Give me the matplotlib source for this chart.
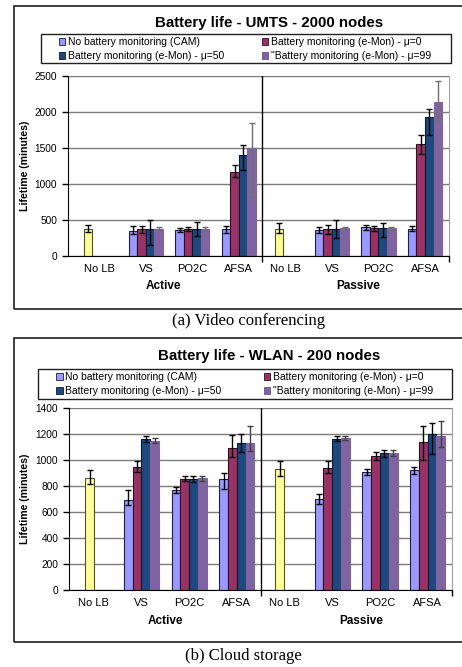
import matplotlib
matplotlib.use('Agg')
import matplotlib.pyplot as plt
import numpy as np
from matplotlib.patches import Rectangle, Patch

plt.rcParams['font.family'] = ['Liberation Sans', 'DejaVu Sans']

W, H = 462, 667
nan = np.nan

categories = ['No LB', 'VS', 'PO2C', 'AFSA', 'No LB', 'VS', 'PO2C', 'AFSA']
groups = ['Active', 'Passive']
series = ['No battery monitoring (CAM)',
          'Battery monitoring (e-Mon) - \u03bc=0',
          'Battery monitoring (e-Mon) - \u03bc=50',
          '"Battery monitoring (e-Mon) - \u03bc=99']
colors = ['#9999ff', '#993366', '#1f497d', '#8064a2']
edges = ['#202040', '#2a1020', '#0a1a30', '#8064a2']
nolb_color = '#ffff99'

# (a) video conferencing, UMTS 2000 nodes  -- value, error bar top, error bar bottom
umts_cam = [370, 350, 362, 368, 376, 353, 395, 376]
umts_cam_top = [423, 410, 390, 413, 450, 393, 427, 410]
umts_cam_bot = [325, 300, 330, 320, 320, 310, 360, 340]
umts_mu0 = [nan, 370, 370, 1165, nan, 367, 386, 1555]
umts_mu0_top = [nan, 413, 397, 1266, nan, 423, 410, 1683]
umts_mu0_bot = [nan, 318, 350, 1099, nan, 300, 350, 1415]
umts_mu50 = [nan, 370, 370, 1400, nan, 376, 386, 1925]
umts_mu50_top = [nan, 497, 465, 1544, nan, 497, 460, 2045]
umts_mu50_bot = [nan, 144, 270, 1192, nan, 246, 255, 1683]
umts_mu99 = [nan, 375, 375, 1500, nan, 381, 381, 2134]
umts_mu99_top = [nan, 400, 397, 1851, nan, 403, 403, 2434]
umts_mu99_bot = [nan, 355, 350, 816, nan, 360, 360, 1878]

# (b) cloud storage, WLAN 200 nodes
wlan_cam = [861, 693, 770, 853, 930, 699, 909, 922]
wlan_cam_top = [922, 768, 790, 899, 996, 737, 932, 950]
wlan_cam_bot = [814, 652, 745, 778, 878, 665, 886, 894]
wlan_mu0 = [nan, 945, 855, 1094, nan, 943, 1035, 1140]
wlan_mu0_top = [nan, 994, 876, 1192, nan, 996, 1060, 1266]
wlan_mu0_bot = [nan, 909, 838, 1027, nan, 899, 1000, 999]
wlan_mu50 = [nan, 1161, 855, 1130, nan, 1161, 1053, 1202]
wlan_mu50_top = [nan, 1184, 880, 1200, nan, 1184, 1075, 1289]
wlan_mu50_bot = [nan, 1140, 830, 1060, nan, 1150, 1021, 1045]
wlan_mu99 = [nan, 1150, 861, 1130, nan, 1174, 1056, 1189]
wlan_mu99_top = [nan, 1173, 880, 1264, nan, 1190, 1075, 1304]
wlan_mu99_bot = [nan, 1130, 842, 1073, nan, 1155, 1035, 1100]


def fx(x):
    return x / W


def fy(y):
    return 1 - y / H


fig = plt.figure(figsize=(W / 100, H / 100), dpi=100)


def draw_panel(box, title, title_y, leg_y, leg_x2, ax_px, xlim, ylim, ystep,
               vals, tops, bots, yshift, err99, caption, cap_y, cap_x, ylab_x):
    # outer frame
    x0, y0, x1, y1 = box
    fig.patches.append(Rectangle((fx(x0), fy(y1)), fx(x1 - x0), (y1 - y0) / H,
                                 transform=fig.transFigure, fill=False,
                                 edgecolor='#202020', lw=1.2))
    fig.text(fx(269), fy(title_y), title, ha='center', va='center',
             fontsize=10.8, fontweight='bold')

    # legend frame + two one-column legends
    lx0, ly0, lx1, ly1 = leg_y
    fig.patches.append(Rectangle((fx(lx0), fy(ly1)), fx(lx1 - lx0), (ly1 - ly0) / H,
                                 transform=fig.transFigure, fill=False,
                                 edgecolor='#202020', lw=1))
    hs = [Patch(facecolor=colors[i], edgecolor=edges[i] if i < 3 else '#6a5090', lw=0.6)
          for i in range(4)]
    for cols, xx in [([0, 2], lx0 + 18), ([1, 3], leg_x2)]:
        fig.legend([hs[c] for c in cols], [series[c] for c in cols],
                   loc='upper left', bbox_to_anchor=(fx(xx), fy(ly0 + 3)),
                   frameon=False, fontsize=7.5, handlelength=0.6, handleheight=0.6,
                   handletextpad=0.25, borderpad=0, borderaxespad=0,
                   labelspacing=0.4)

    l, r, t, b = ax_px
    ax = fig.add_axes([fx(l), fy(b), fx(r - l), (b - t) / H])
    x = np.arange(len(categories))
    wdt = 0.184
    for i in range(4):
        v = np.array(vals[i], dtype=float)
        tp = np.array(tops[i], dtype=float)
        bt = np.array(bots[i], dtype=float)
        pos = x + (i - 1.5) * wdt
        fc = [colors[i]] * len(x)
        ec = [edges[i]] * len(x)
        if i == 0:
            for k, c in enumerate(categories):
                if c == 'No LB':
                    pos[k] = x[k] + yshift[k // 4]
                    fc[k] = nolb_color
                    ec[k] = '#505020'
        ok = ~np.isnan(v)
        ax.bar(pos[ok], v[ok], width=wdt, color=np.array(fc)[ok],
               edgecolor=np.array(ec)[ok], lw=0.8, zorder=2)
        ecol = err99 if i == 3 else 'black'
        ax.errorbar(pos[ok], v[ok], yerr=[v[ok] - bt[ok], tp[ok] - v[ok]], fmt='none',
                    ecolor=ecol, elinewidth=1, capsize=2.5, capthick=1, zorder=3)

    ax.set_xlim(*xlim)
    ax.set_ylim(0, ylim)
    ax.set_yticks(np.arange(0, ylim + 1, ystep))
    ax.yaxis.grid(True, color='#7c7c7c', lw=1)
    ax.set_axisbelow(True)
    ax.axvline(3.5, color='black', lw=1, zorder=1)
    ax.set_xticks(x)
    ax.set_xticklabels(categories, fontsize=8)
    ax.tick_params(axis='x', length=0, pad=6)
    ax.set_xticks([3.5, xlim[1]], minor=True)
    ax.tick_params(axis='x', which='minor', length=4, width=1)
    ax.tick_params(axis='y', length=4, width=1, pad=4, labelsize=7.3)
    ax.spines['top'].set_visible(False)
    ax.spines['right'].set_color('#a0a0a0')
    ax.spines['left'].set_color('black')
    ax.spines['bottom'].set_color('black')
    ax.set_ylabel('Lifetime (minutes)', fontsize=7.6, fontweight='bold')
    ax.yaxis.set_label_coords(ylab_x, 0.5)
    for g, gx in zip(groups, [0.25, 0.762]):
        ax.text(gx, -0.17, g, transform=ax.transAxes, ha='center', va='center',
                fontsize=8.5, fontweight='bold')

    fig.text(fx(cap_x), fy(cap_y), caption, ha='center', va='center',
             fontsize=12, family=['Liberation Serif', 'DejaVu Serif'])


draw_panel((14.3, 6, 466, 309), 'Battery life - UMTS - 2000 nodes', 23,
           (40.7, 34, 451.3, 63.3), 262,
           (68.3, 448.7, 76, 255.7), (-0.667, 7.51), 2500, 500,
           [umts_cam, umts_mu0, umts_mu50, umts_mu99],
           [umts_cam_top, umts_mu0_top, umts_mu50_top, umts_mu99_top],
           [umts_cam_bot, umts_mu0_bot, umts_mu50_bot, umts_mu99_bot],
           [-0.247, -0.14], '#707070', '(a) Video conferencing', 321, 249, -0.1)

draw_panel((14.3, 338, 466, 641.7), 'Battery life - WLAN - 200 nodes', 356,
           (38.3, 369, 452.3, 399), 264,
           (69.3, 452, 408.3, 590), (-0.51, 7.51), 1400, 200,
           [wlan_cam, wlan_mu0, wlan_mu50, wlan_mu99],
           [wlan_cam_top, wlan_mu0_top, wlan_mu50_top, wlan_mu99_top],
           [wlan_cam_bot, wlan_mu0_bot, wlan_mu50_bot, wlan_mu99_bot],
           [-0.086, -0.097], '#404040', '(b) Cloud storage', 656, 243, -0.102)

fig.savefig('out.png', dpi=100)
